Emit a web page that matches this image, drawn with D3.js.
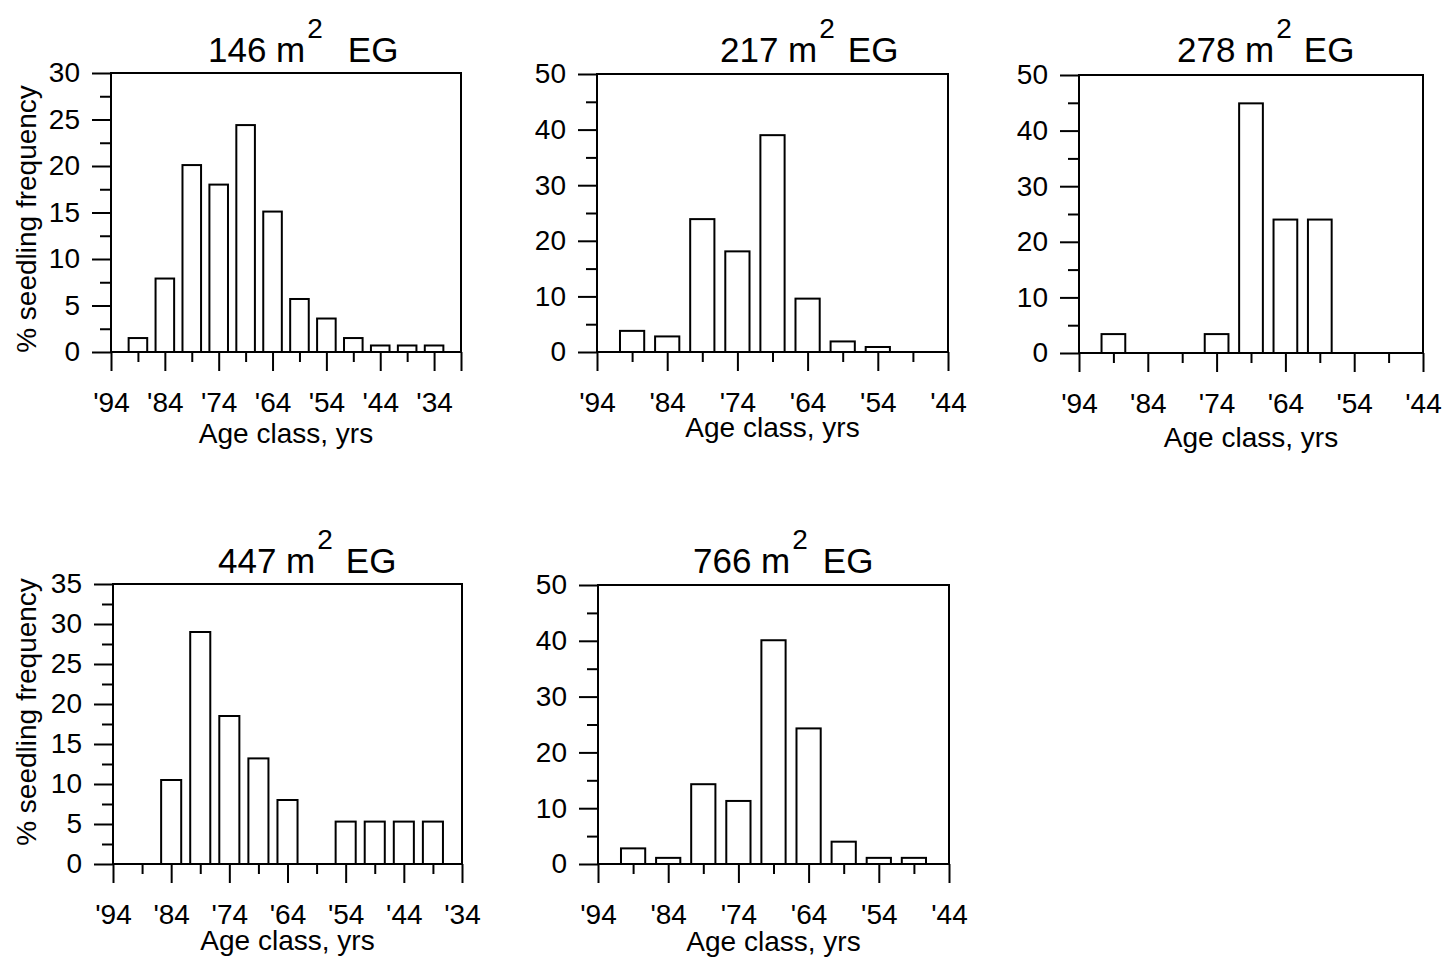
<!DOCTYPE html>
<html>
<head>
<meta charset="utf-8">
<script src="https://cdn.jsdelivr.net/npm/d3@7"></script>
<style>
  html, body { margin: 0; padding: 0; background: #fff; }
  svg { display: block; }
  text { font-family: "Liberation Sans", Arial, sans-serif; fill: #000; }
</style>
</head>
<body>
<svg id="chart" width="1450" height="969"></svg>
<script>
// ---------------- DATA ----------------
const panelAreas = ["146", "217", "278", "447", "766"];
const titleUnit = "m";
const titleSup = "2";
const titleSuffix = "EG";
const yAxisTitle = "% seedling frequency";
const xAxisTitle = "Age class, yrs";

// age-class centres (year '89 = 89 ...)
const ages146 = [89, 84, 79, 74, 69, 64, 59, 54, 49, 44, 39, 34];
const vals146 = [1.5, 7.9, 20.1, 18.0, 24.4, 15.1, 5.7, 3.6, 1.5, 0.7, 0.7, 0.7];

const ages217 = [89, 84, 79, 74, 69, 64, 59, 54, 49];
const vals217 = [3.8, 2.8, 23.9, 18.1, 39.0, 9.6, 1.9, 0.9, 0];

const ages278 = [89, 84, 79, 74, 69, 64, 59, 54, 49];
const vals278 = [3.4, 0, 0, 3.4, 44.9, 24.0, 24.0, 0, 0];

const ages447 = [89, 84, 79, 74, 69, 64, 59, 54, 49, 44, 39];
const vals447 = [0, 10.5, 29.0, 18.5, 13.2, 8.0, 0, 5.3, 5.3, 5.3, 5.3];

const ages766 = [89, 84, 79, 74, 69, 64, 59, 54, 49];
const vals766 = [2.8, 1.1, 14.3, 11.3, 40.1, 24.3, 4.0, 1.1, 1.1];

const xMajorTicks94to34 = [94, 84, 74, 64, 54, 44, 34];
const xMajorTicks94to44 = [94, 84, 74, 64, 54, 44];
const yTicks30 = [0, 5, 10, 15, 20, 25, 30];
const yTicks35 = [0, 5, 10, 15, 20, 25, 30, 35];
const yTicks50 = [0, 10, 20, 30, 40, 50];

// ---------------- LAYOUT ----------------
const panels = [
  { area: panelAreas[0], ages: ages146, vals: vals146, xEnd: 29, xMajor: xMajorTicks94to34, yMax: 30, yMajor: yTicks30, yMinorStep: 2.5,
    L: 111, R: 461, T: 73, B: 352, titleX: 208, titleY: 62, egGap: 25, xTitleY: 443, yTitle: { x: 36, y: 219 } },
  { area: panelAreas[1], ages: ages217, vals: vals217, xEnd: 44, xMajor: xMajorTicks94to44, yMax: 50, yMajor: yTicks50, yMinorStep: 5,
    L: 597, R: 948, T: 74, B: 352, titleX: 720, titleY: 62, egGap: 13, xTitleY: 437 },
  { area: panelAreas[2], ages: ages278, vals: vals278, xEnd: 44, xMajor: xMajorTicks94to44, yMax: 50, yMajor: yTicks50, yMinorStep: 5,
    L: 1079, R: 1423, T: 75, B: 353, titleX: 1177, titleY: 62, egGap: 12, xTitleY: 447 },
  { area: panelAreas[3], ages: ages447, vals: vals447, xEnd: 34, xMajor: xMajorTicks94to34, yMax: 35, yMajor: yTicks35, yMinorStep: 2.5,
    L: 113, R: 462, T: 584, B: 864, titleX: 218, titleY: 573, egGap: 13, xTitleY: 950, yTitle: { x: 36, y: 712 } },
  { area: panelAreas[4], ages: ages766, vals: vals766, xEnd: 44, xMajor: xMajorTicks94to44, yMax: 50, yMajor: yTicks50, yMinorStep: 5,
    L: 598, R: 949, T: 585, B: 864, titleX: 693, titleY: 573, egGap: 15, xTitleY: 951 }
];

const svg = d3.select("#chart");
const SW = 2;

panels.forEach(p => {
  const g = svg.append("g");
  const x = d3.scaleLinear().domain([94, p.xEnd]).range([p.L, p.R]);
  const y = d3.scaleLinear().domain([0, p.yMax]).range([p.B, p.T]);
  const step = Math.abs(x(89) - x(94));
  const bw = step * 0.69;

  // bars
  g.selectAll("rect.bar")
    .data(p.ages.map((a, i) => ({ a, v: p.vals[i] })).filter(d => d.v > 0))
    .enter().append("rect")
    .attr("class", "bar")
    .attr("x", d => x(d.a) - bw / 2)
    .attr("width", bw)
    .attr("y", d => y(d.v))
    .attr("height", d => y(0) - y(d.v))
    .attr("fill", "#fff")
    .attr("stroke", "#000")
    .attr("stroke-width", SW);

  // frame
  g.append("rect")
    .attr("x", p.L).attr("y", p.T)
    .attr("width", p.R - p.L).attr("height", p.B - p.T)
    .attr("fill", "none").attr("stroke", "#000").attr("stroke-width", SW);

  // y axis major
  const yMinor = d3.range(0, p.yMax + 0.001, p.yMinorStep).filter(v => !p.yMajor.includes(v));
  const yAx = g.append("g").attr("transform", `translate(${p.L},0)`)
    .call(d3.axisLeft(y).tickValues(p.yMajor).tickSize(19).tickPadding(12).tickFormat(d3.format("d")));
  yAx.select(".domain").remove();
  yAx.selectAll("line").attr("stroke", "#000").attr("stroke-width", SW);
  yAx.selectAll("text").attr("font-size", 28).attr("font-family", "Liberation Sans, Arial, sans-serif").attr("fill", "#000");
  const yAxm = g.append("g").attr("transform", `translate(${p.L},0)`)
    .call(d3.axisLeft(y).tickValues(yMinor).tickSize(11).tickFormat(""));
  yAxm.select(".domain").remove();
  yAxm.selectAll("line").attr("stroke", "#000").attr("stroke-width", SW);

  // x axis
  const allX = d3.range(94, p.xEnd - 0.001, -5);
  const xMajorAll = p.xMajor.concat(p.xMajor.includes(p.xEnd) ? [] : [p.xEnd]);
  const xMinor = allX.filter(v => !xMajorAll.includes(v));
  const xAx = g.append("g").attr("transform", `translate(0,${p.B})`)
    .call(d3.axisBottom(x).tickValues(xMajorAll).tickSize(19)
      .tickFormat(d => p.xMajor.includes(d) ? "'" + d : ""));
  xAx.select(".domain").remove();
  xAx.selectAll("line").attr("stroke", "#000").attr("stroke-width", SW);
  xAx.selectAll("text").attr("font-size", 28).attr("font-family", "Liberation Sans, Arial, sans-serif")
    .attr("fill", "#000").attr("y", 60).attr("dy", 0);
  const xAxm = g.append("g").attr("transform", `translate(0,${p.B})`)
    .call(d3.axisBottom(x).tickValues(xMinor).tickSize(10).tickFormat(""));
  xAxm.select(".domain").remove();
  xAxm.selectAll("line").attr("stroke", "#000").attr("stroke-width", SW);

  // title
  const t = g.append("text").attr("x", p.titleX).attr("y", p.titleY).attr("font-size", 35);
  t.append("tspan").text(p.area + " " + titleUnit);
  t.append("tspan").attr("dy", -24).attr("dx", 2).attr("font-size", 28).text(titleSup);
  t.append("tspan").attr("dy", 24).attr("dx", p.egGap).text(titleSuffix);

  // x axis title
  g.append("text").attr("x", (p.L + p.R) / 2).attr("y", p.xTitleY)
    .attr("text-anchor", "middle").attr("font-size", 28).text(xAxisTitle);

  // y axis title
  if (p.yTitle) {
    g.append("text").attr("transform", `translate(${p.yTitle.x},${p.yTitle.y}) rotate(-90)`)
      .attr("text-anchor", "middle").attr("font-size", 28).text(yAxisTitle);
  }
});
</script>
</body>
</html>
